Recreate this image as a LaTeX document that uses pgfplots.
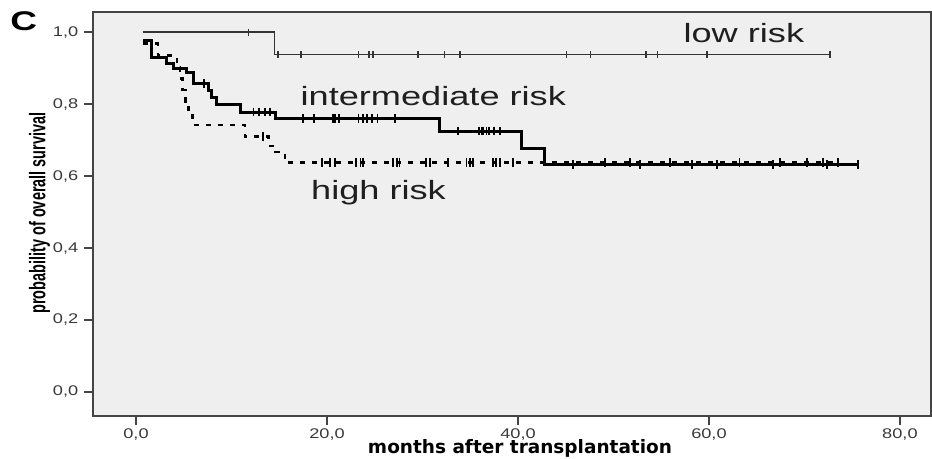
\documentclass[border=0pt]{standalone}
\usepackage{fontspec}
\usepackage{pgfplots}
\pgfplotsset{compat=1.18}
\setmainfont{Liberation Sans}
\newfontfamily\widefont{Liberation Sans}[FakeStretch=1.37]
\newfontfamily\tickfont{Liberation Sans}[FakeStretch=1.3]
\newfontfamily\condfont{Liberation Sans}[FakeStretch=0.64]
\newfontfamily\dejafont{DejaVu Sans}
\definecolor{bgGray}{HTML}{EFEFEF}
\definecolor{axGray}{HTML}{444444}
\definecolor{tkGray}{HTML}{3A3A3A}
\begin{document}
\begin{tikzpicture}
\path[use as bounding box] (0,0) rectangle (466pt,229.5pt);
\begin{axis}[
  at={(46.65pt,21.65pt)}, anchor=south west,
  scale only axis, width=418.85pt, height=201.85pt,
  xmin=-4.47, xmax=83.25, ymin=-0.066, ymax=1.056,
  axis background/.style={fill=bgGray},
  axis line style={draw=axGray, line width=1.1pt},
  xtick={0,20,40,60,80}, ytick={0,0.2,0.4,0.6,0.8,1},
  minor tick num=0,
  tick pos=left, tick align=outside, major tick length=4.5pt,
  tick style={axGray, line width=1pt},
  /pgf/number format/.cd, fixed, fixed zerofill, precision=1, use comma, assume math mode=true,
  /pgfplots/.cd,
  tick label style={font=\tickfont\fontsize{7pt}{8pt}\selectfont, text=tkGray},
  xticklabel style={yshift=1.5pt},
  yticklabel style={xshift=0.5pt},
  clip=false,
]
% low risk
\addplot[const plot, draw=black!80, line width=0.65pt] coordinates {
(0.73,1.0) (14.5,0.9375) (72.7,0.9375)};
\addplot[only marks, mark=|, mark size=1.8pt, draw=black!80, line width=0.8pt] coordinates {
(11.8,1.0) (14.9,0.9375) (17.3,0.9375) (23.3,0.9375) (24.4,0.9375) (24.8,0.9375)
(29.5,0.9375) (32.3,0.9375) (33.9,0.9375) (45.1,0.9375) (47.6,0.9375) (53.4,0.9375)
(54.6,0.9375) (59.8,0.9375) (72.7,0.9375)};
% high risk
\addplot[const plot, draw=black, line width=1.3pt, dash pattern=on 2.5pt off 3.5pt] coordinates {
(0.75,0.968) (2.3,0.935) (4.3,0.903) (4.6,0.871) (4.9,0.839) (5.2,0.806) (5.5,0.774)
(5.9,0.742) (11.4,0.710) (13.9,0.684) (14.6,0.667) (15.6,0.638) (73.5,0.638)};
\addplot[only marks, mark=|, mark size=2.2pt, draw=black, line width=0.9pt] coordinates {
(13.3,0.710) (19.5,0.638) (20.3,0.638) (20.8,0.638) (23.0,0.638) (23.5,0.638) (23.8,0.638)
(26.9,0.638) (27.3,0.638) (27.6,0.638) (30.4,0.638) (30.8,0.638) (32.7,0.638) (34.6,0.638)
(35.0,0.638) (35.3,0.638) (37.4,0.638) (37.7,0.638) (38.1,0.638) (39.5,0.638) (49.1,0.638)
(51.7,0.638) (55.9,0.638) (63.2,0.638) (67.4,0.638) (70.3,0.638) (71.9,0.638) (73.5,0.638)};
% intermediate risk
\addplot[const plot, draw=black, line width=1.5pt] coordinates {
(0.75,0.978) (1.6,0.930) (3.2,0.913) (3.9,0.900) (5.3,0.889) (6.0,0.858) (7.6,0.838)
(7.9,0.818) (8.4,0.800) (10.9,0.778) (14.6,0.759) (31.8,0.725) (40.4,0.676) (42.8,0.632)
(75.6,0.632)};
\addplot[only marks, mark=|, mark size=2.2pt, draw=black, line width=0.9pt] coordinates {
(7.1,0.858) (12.3,0.778) (12.9,0.778) (13.5,0.778) (14.0,0.778)
(17.5,0.759) (18.6,0.759) (20.6,0.759) (20.8,0.759) (21.3,0.759) (23.3,0.759) (23.8,0.759)
(24.2,0.759) (24.7,0.759) (25.3,0.759) (27.1,0.759)
(33.7,0.725) (35.9,0.725) (36.2,0.725) (36.4,0.725) (36.7,0.725) (37.0,0.725) (37.5,0.725) (38.1,0.725)
(45.8,0.632) (52.8,0.632) (58.2,0.632) (60.8,0.632) (66.7,0.632) (72.4,0.632) (75.6,0.632)};
\node[anchor=base west, inner sep=0pt, text=black!88, font=\widefont\fontsize{13.2pt}{15pt}\selectfont] at (axis cs:57.3,0.972) {low risk};
\node[anchor=base west, inner sep=0pt, text=black!88, font=\widefont\fontsize{13.2pt}{15pt}\selectfont] at (axis cs:17.2,0.797) {intermediate risk};
\node[anchor=base west, inner sep=0pt, text=black!88, font=\widefont\fontsize{13.2pt}{15pt}\selectfont] at (axis cs:18.3,0.536) {high risk};
\end{axis}
\node[anchor=base, inner sep=0pt, font=\widefont\bfseries\fontsize{13.5pt}{15pt}\selectfont] at (11.9pt,214.15pt) {C};
\node[anchor=base, inner sep=0pt, font=\dejafont\bfseries\fontsize{9.6pt}{11pt}\selectfont] at (260pt,2.85pt) {\resizebox{152pt}{!}{months after transplantation}};
\node[anchor=base, rotate=90, inner sep=0pt, font=\condfont\bfseries\fontsize{11.3pt}{13pt}\selectfont] at (22.65pt,123pt) {probability of overall survival};
\end{tikzpicture}
\end{document}
